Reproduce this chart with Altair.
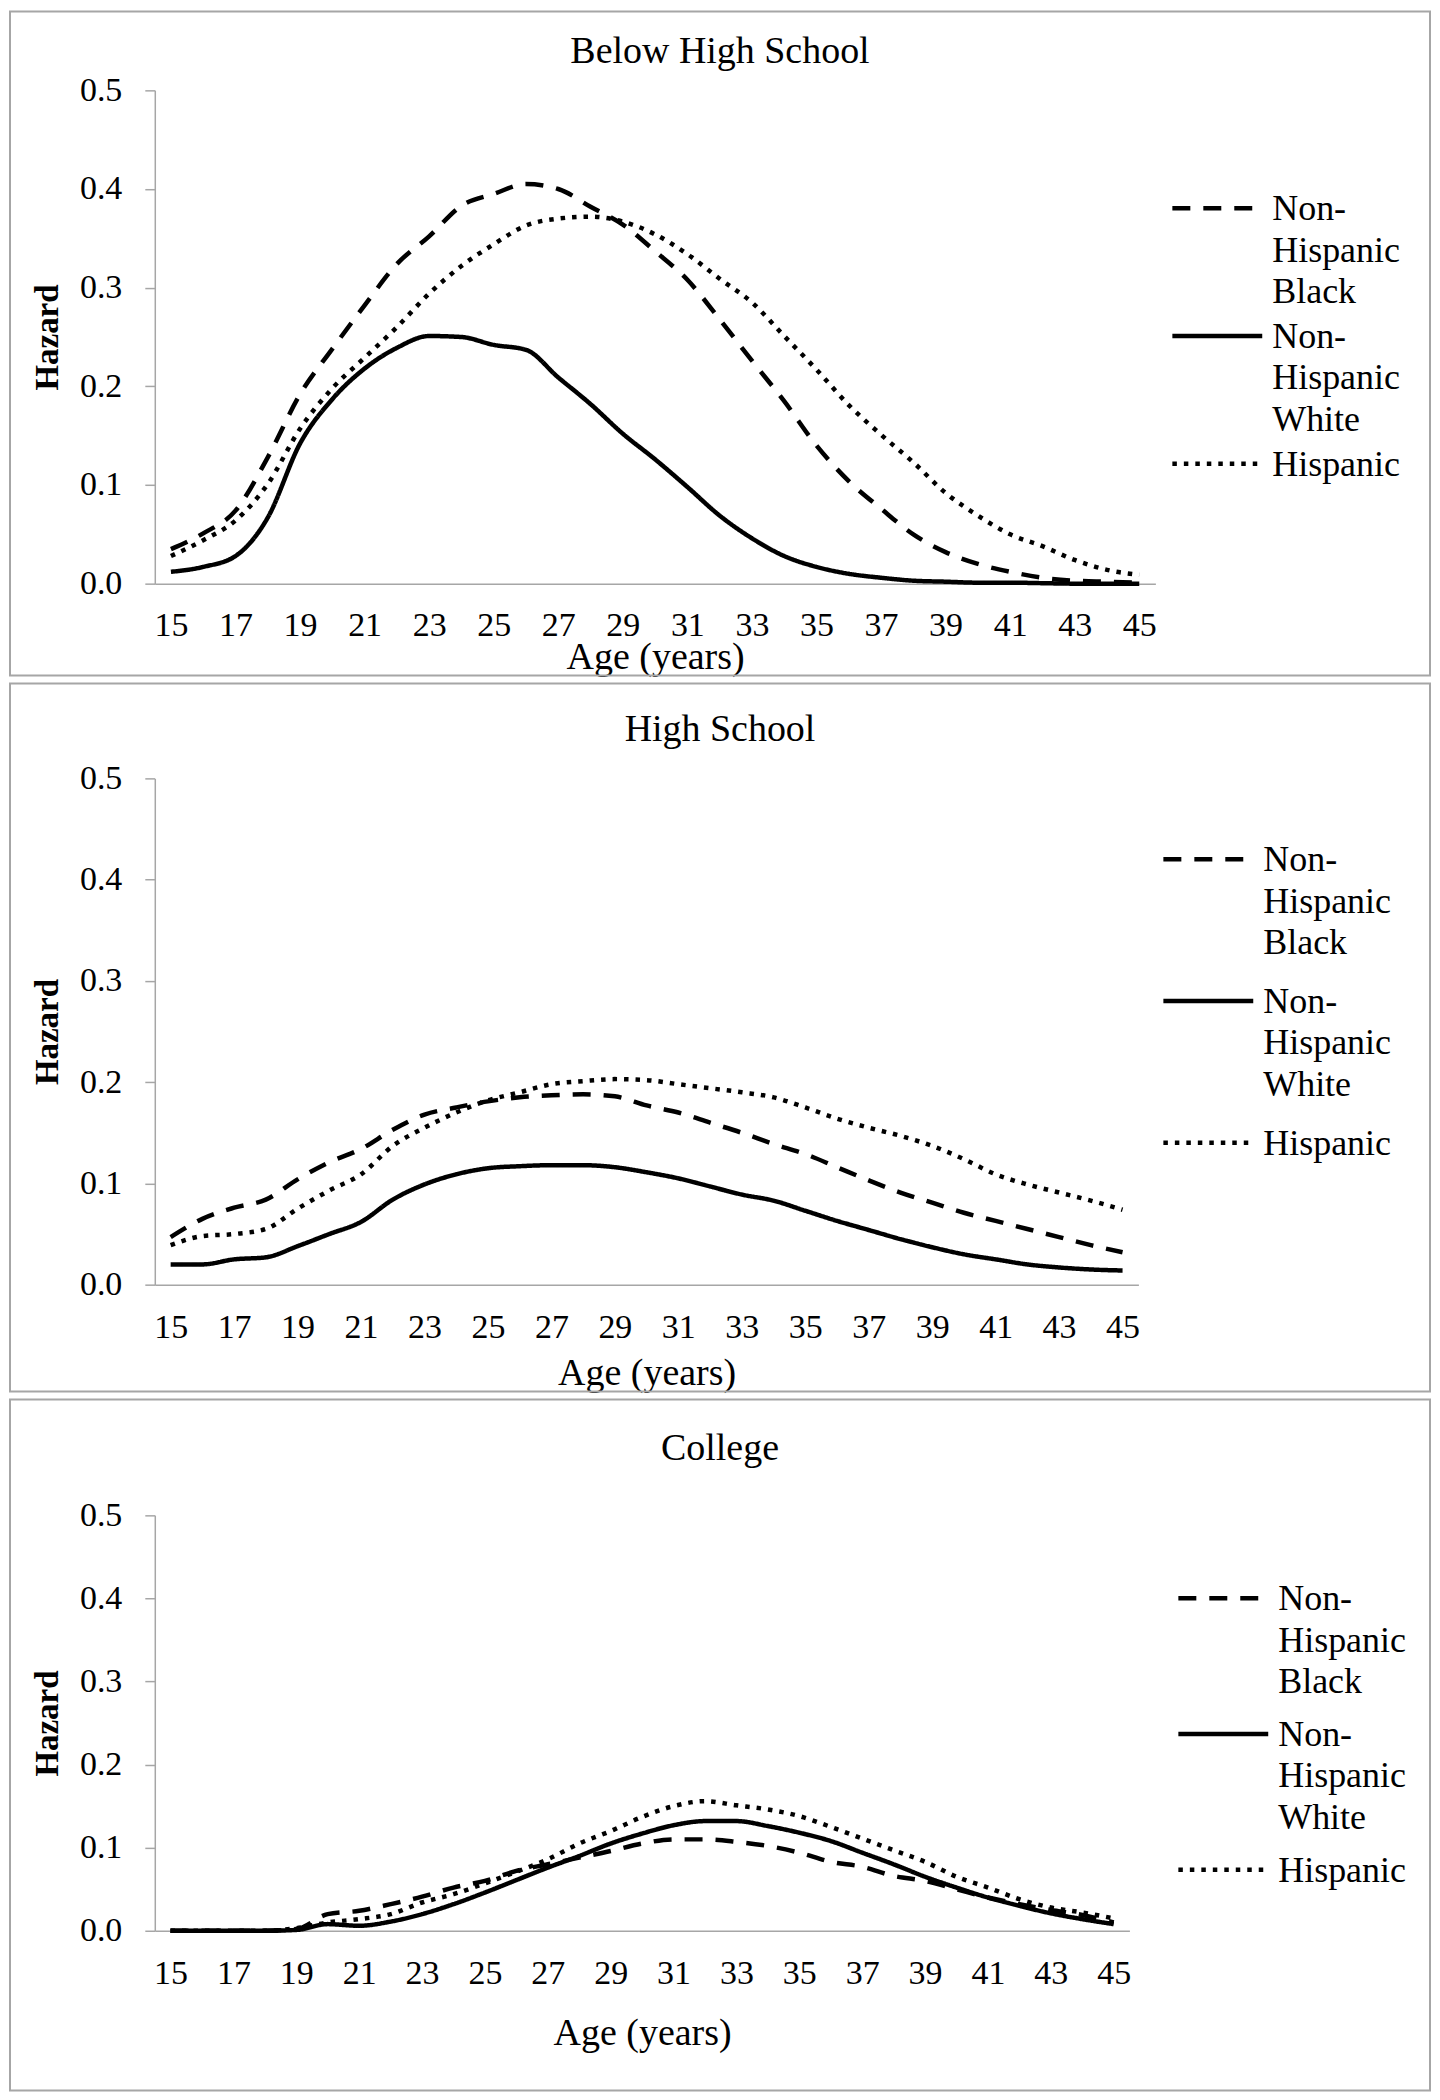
import altair as alt
import pandas as pd

AGES = list(range(15, 46))
AGE_TICKS = list(range(15, 46, 2))
HAZARD_TICKS = [0.0, 0.1, 0.2, 0.3, 0.4, 0.5]
GROUPS = ["Non-Hispanic Black", "Non-Hispanic White", "Hispanic"]

# Below high school
BELOW_BLACK = [0.035, 0.051, 0.074, 0.128, 0.192, 0.238, 0.282, 0.324, 0.352, 0.383,
               0.395, 0.405, 0.400, 0.382, 0.364, 0.337, 0.308, 0.268, 0.226, 0.185,
               0.140, 0.104, 0.076, 0.050, 0.032, 0.020, 0.012, 0.006, 0.003, 0.002, 0.001]
BELOW_WHITE = [0.012, 0.017, 0.028, 0.067, 0.142, 0.187, 0.218, 0.239, 0.251, 0.250,
               0.242, 0.237, 0.209, 0.182, 0.152, 0.126, 0.098, 0.069, 0.046, 0.028,
               0.017, 0.010, 0.006, 0.003, 0.002, 0.001, 0.001, 0.0005, 0.0, 0.0, 0.0]
BELOW_HISPANIC = [0.028, 0.044, 0.064, 0.101, 0.157, 0.198, 0.229, 0.260, 0.294, 0.322,
                  0.344, 0.363, 0.370, 0.372, 0.367, 0.354, 0.334, 0.309, 0.285, 0.251,
                  0.217, 0.181, 0.151, 0.123, 0.092, 0.069, 0.050, 0.038, 0.024, 0.014, 0.009]

# High school
HS_BLACK = [0.047, 0.065, 0.076, 0.084, 0.104, 0.121, 0.134, 0.153, 0.168, 0.175,
            0.181, 0.185, 0.187, 0.188, 0.186, 0.177, 0.170, 0.160, 0.150, 0.139,
            0.129, 0.116, 0.103, 0.091, 0.081, 0.071, 0.063, 0.055, 0.047, 0.039, 0.032]
HS_WHITE = [0.020, 0.020, 0.025, 0.027, 0.038, 0.050, 0.062, 0.084, 0.099, 0.109,
            0.115, 0.117, 0.118, 0.118, 0.116, 0.111, 0.105, 0.097, 0.089, 0.083,
            0.073, 0.063, 0.054, 0.045, 0.037, 0.030, 0.025, 0.020, 0.017, 0.015, 0.014]
HS_HISPANIC = [0.039, 0.048, 0.050, 0.055, 0.075, 0.093, 0.109, 0.137, 0.155, 0.170,
               0.182, 0.190, 0.198, 0.201, 0.203, 0.202, 0.198, 0.194, 0.190, 0.185,
               0.175, 0.164, 0.155, 0.147, 0.137, 0.124, 0.109, 0.099, 0.091, 0.083, 0.074]

# College
COL_BLACK = [0.0, 0.0, 0.0, 0.0, 0.002, 0.020, 0.024, 0.032, 0.041, 0.052,
             0.060, 0.072, 0.080, 0.088, 0.096, 0.105, 0.110, 0.110, 0.107, 0.102,
             0.094, 0.083, 0.077, 0.066, 0.060, 0.050, 0.040, 0.032, 0.025, 0.019, 0.010]
COL_WHITE = [0.0, 0.0, 0.0, 0.0, 0.001, 0.008, 0.006, 0.011, 0.020, 0.032,
             0.046, 0.061, 0.076, 0.090, 0.105, 0.117, 0.127, 0.132, 0.132, 0.126,
             0.118, 0.108, 0.094, 0.080, 0.065, 0.052, 0.040, 0.030, 0.021, 0.014, 0.008]
COL_HISPANIC = [0.0, 0.0, 0.0, 0.0, 0.003, 0.010, 0.014, 0.020, 0.034, 0.044,
                0.057, 0.071, 0.086, 0.105, 0.120, 0.137, 0.150, 0.156, 0.151, 0.146,
                0.138, 0.125, 0.111, 0.097, 0.083, 0.065, 0.052, 0.038, 0.028, 0.022, 0.015]

FONT = "Liberation Serif"
GREY = "#a6a6a6"
DASHES = [[18, 13], [1, 0], [4.5, 7]]
FRAME_LEFT, FRAME_RIGHT = -145, 1277
# small symbol box with a wide path, so the legend rows stay tight like Excel's
LEGEND_SYMBOL = "M-9,-2.4L9,-2.4"


def panel(title, black, white, hispanic, width, height, frame_top, frame_bottom,
          title_y, label_pad, age_title_y, legend_x, legend_y, row_pad):
    df = pd.DataFrame({
        "age": AGES * 3,
        "group": [GROUPS[0]] * 31 + [GROUPS[1]] * 31 + [GROUPS[2]] * 31,
        "hazard": black + white + hispanic,
    })
    label = pd.DataFrame({"name": [title]})

    box = alt.Chart(label).mark_rect(filled=False, stroke=GREY, strokeWidth=2).encode(
        x=alt.value(FRAME_LEFT), x2=alt.value(FRAME_RIGHT),
        y=alt.value(frame_top), y2=alt.value(height + frame_bottom),
    )
    heading = alt.Chart(label).mark_text(
        font=FONT, fontSize=38, align="center", baseline="alphabetic", color="black"
    ).encode(text="name:N", x=alt.value((FRAME_LEFT + FRAME_RIGHT) / 2), y=alt.value(title_y))

    lines = alt.Chart(df).mark_line(
        color="black", strokeWidth=4.5, interpolate="monotone"
    ).encode(
        x=alt.X("age:O", axis=alt.Axis(
            values=AGE_TICKS, title="Age (years)", labelAngle=0, ticks=False, tickSize=0,
            labelPadding=label_pad, titleY=age_title_y, titleBaseline="top", grid=False,
        )),
        y=alt.Y("hazard:Q", scale=alt.Scale(domain=[0, 0.5]), axis=alt.Axis(
            values=HAZARD_TICKS, format=".1f", title="Hazard", titleFontWeight="bold",
            titleFontSize=33, titleX=-107, titleY=height / 2, titleAngle=270,
            titleAlign="center", titleBaseline="middle", tickSize=10, labelPadding=23,
            grid=False,
        )),
        strokeDash=alt.StrokeDash("group:N", scale=alt.Scale(domain=GROUPS, range=DASHES),
                                  legend=alt.Legend(
            title=None, orient="none", legendX=legend_x, legendY=legend_y,
            rowPadding=row_pad, padding=0, symbolType=LEGEND_SYMBOL, symbolSize=100,
            symbolOffset=27, symbolStrokeWidth=4.5, symbolStrokeColor="black",
            labelFont=FONT, labelFontSize=36, labelColor="black", labelOffset=37,
            labelBaseline="alphabetic", labelLimit=400,
            labelExpr="split(replace(datum.label, 'Non-Hispanic ', 'Non-|Hispanic|'), '|')",
        )),
    )
    return alt.layer(box, heading, lines).properties(width=width, height=height)


p1 = panel("Below High School", BELOW_BLACK, BELOW_WHITE, BELOW_HISPANIC,
           1002, 494, -79, 92, -27, 25, 55, 1019, 112, 9)
p2 = panel("High School", HS_BLACK, HS_WHITE, HS_HISPANIC,
           985, 507, -95, 107, -37, 26, 70, 1010, 75, 23)
p3 = panel("College", COL_BLACK, COL_WHITE, COL_HISPANIC,
           976, 416, -116, 160, -55, 26, 84, 1025, 77, 17)

chart = (
    alt.vconcat(p1, p2, p3, spacing=4)
    .resolve_scale(x="independent", y="independent", strokeDash="independent")
    .resolve_legend(strokeDash="independent")
    .properties(padding=0)
    .configure(font=FONT, style={"guide-label": {"lineHeight": 41.5}})
    .configure_view(stroke="transparent")
    .configure_axis(
        labelFont=FONT, labelFontSize=34, labelColor="black",
        titleFont=FONT, titleFontSize=38, titleColor="black", titleFontWeight="normal",
        domainColor=GREY, domainWidth=1.5, tickColor=GREY, tickWidth=1.5,
    )
)

chart.save("out.html", embed_options={"renderer": "svg", "actions": False})
